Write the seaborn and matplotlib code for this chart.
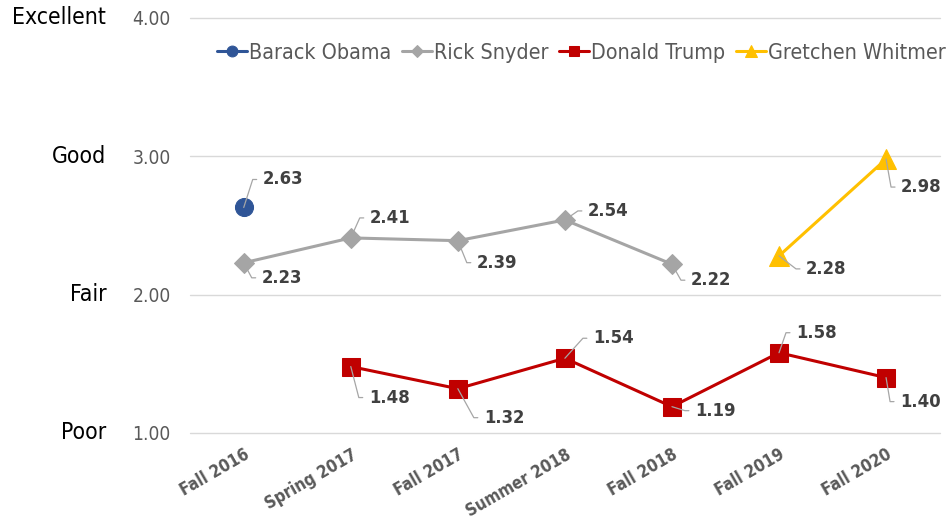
import math
import matplotlib
matplotlib.use("Agg")
import matplotlib.pyplot as plt
from matplotlib import font_manager
import seaborn as sns
import pandas as pd

categories = ["Fall 2016", "Spring 2017", "Fall 2017", "Summer 2018", "Fall 2018", "Fall 2019", "Fall 2020"]

obama_x = ["Fall 2016"]
obama_y = [2.63]
snyder_x = ["Fall 2016", "Spring 2017", "Fall 2017", "Summer 2018", "Fall 2018"]
snyder_y = [2.23, 2.41, 2.39, 2.54, 2.22]
trump_x = ["Spring 2017", "Fall 2017", "Summer 2018", "Fall 2018", "Fall 2019", "Fall 2020"]
trump_y = [1.48, 1.32, 1.54, 1.19, 1.58, 1.40]
whitmer_x = ["Fall 2019", "Fall 2020"]
whitmer_y = [2.28, 2.98]

yticks = [1.0, 2.0, 3.0, 4.0]
ytick_words = ["Poor", "Fair", "Good", "Excellent"]

# data-label offsets (pixels right, pixels down) from each point: layout only
obama_off = [(19, -28)]
snyder_off = [(18, 15), (19, -20), (19, 22), (23, -9), (19, 16)]
trump_off = [(18, 31), (26, 29), (28, -20), (23, 4), (17, -20), (14, 24)]
whitmer_off = [(27, 13), (15, 28)]

sns.set_theme(style="white")
plt.rcParams["font.family"] = ["DejaVu Sans"]

# use condensed DejaVu if available (closer to the original Tahoma)
stretch = "normal"
scale = 1.0
try:
    f = font_manager.findfont(font_manager.FontProperties(family="DejaVu Sans", stretch="condensed"),
                              fallback_to_default=False)
    if "Condensed" in f:
        stretch = "condensed"
        scale = 1.1
except Exception:
    pass
plt.rcParams["font.stretch"] = stretch

fig = plt.figure(figsize=(9.51, 5.21), dpi=100)
ax = fig.add_axes([0.2, 0.169, 0.788, 0.7965])

series = [
    ("Barack Obama", obama_x, obama_y, obama_off, "#2F5597", "o", 13),
    ("Rick Snyder", snyder_x, snyder_y, snyder_off, "#A5A5A5", "D", 10),
    ("Donald Trump", trump_x, trump_y, trump_off, "#C00000", "s", 13),
    ("Gretchen Whitmer", whitmer_x, whitmer_y, whitmer_off, "#FFC000", "^", 14),
]

PX = 72.0 / 100.0
xi = {c: i for i, c in enumerate(categories)}
for name, xs, ys, offs, col, mk, ms in series:
    df = pd.DataFrame({"x": [xi[c] for c in xs], "y": ys})
    sns.lineplot(data=df, x="x", y="y", ax=ax, color=col, marker=mk, markersize=ms,
                 markeredgecolor=col, linewidth=2.2, label=name, sort=False)
    for c, v, (dx, dy) in zip(xs, ys, offs):
        knee = max(dx - 10, 1)
        angB = math.degrees(math.atan2(-dy, knee))
        ax.annotate(f"{v:.2f}", xy=(xi[c], v), xytext=(dx * PX, -dy * PX),
                    textcoords="offset points", ha="left", va="center",
                    fontsize=12 * scale, fontweight="bold", color="#404040", zorder=5,
                    arrowprops=dict(arrowstyle="-", color="#A6A6A6", lw=0.9,
                                    connectionstyle=f"angle,angleA=0,angleB={angB:.1f},rad=0",
                                    relpos=(0, 0.5), shrinkA=2, shrinkB=0))

ax.set_xlim(-0.5, 6.5)
ax.set_ylim(1.0, 4.0)
ax.set_yticks(yticks)
ax.set_yticklabels([f"{t:.2f}" for t in yticks], fontsize=12.5 * scale, color="#595959")
ax.set_xticks(range(len(categories)))
ax.set_xticklabels(categories, rotation=30, ha="right", rotation_mode="anchor",
                   fontsize=11 * scale, fontweight="bold", color="#595959")
ax.tick_params(axis="y", length=0, pad=14)
ax.tick_params(axis="x", length=0, pad=9)
ax.grid(axis="y", color="#D9D9D9", linewidth=1)
for gl in ax.get_ygridlines():
    gl.set_clip_on(False)
ax.set_axisbelow(True)
for s in ax.spines.values():
    s.set_visible(False)
ax.set_xlabel("")
ax.set_ylabel("")

trans = ax.get_yaxis_transform()
for t, w in zip(yticks, ytick_words):
    ax.text(-0.112, t, w, transform=trans, ha="right", va="center",
            fontsize=15 * scale, color="black")

ax.legend(loc="center", bbox_to_anchor=(0.522, 0.916), ncol=4, frameon=False,
          fontsize=14 * scale, handlelength=1.4, handletextpad=0.1, columnspacing=0.5,
          labelcolor="#595959", markerscale=0.6)

fig.savefig("out.png", dpi=100)
